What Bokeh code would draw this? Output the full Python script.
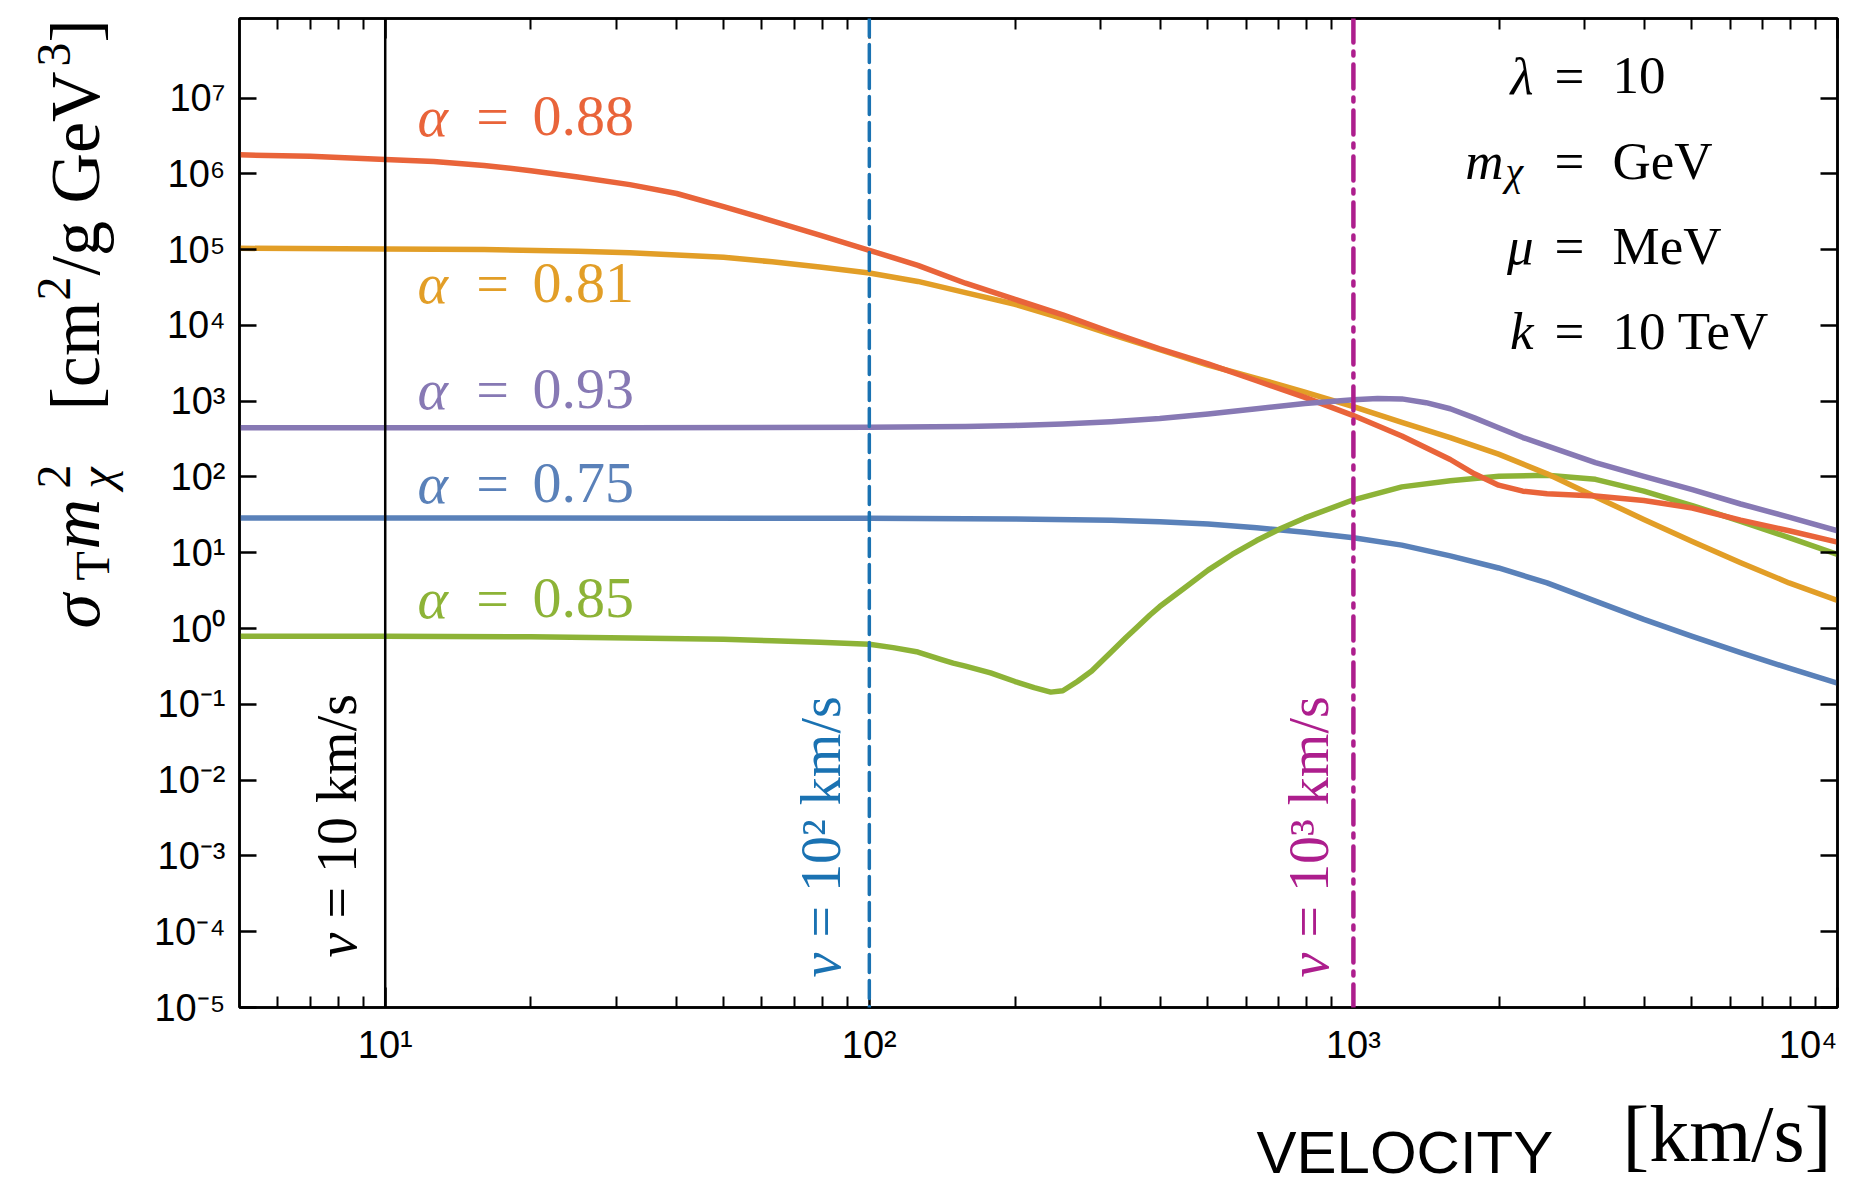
import math
from bokeh.plotting import figure
from bokeh.layouts import row, column
from bokeh.models import LogAxis, FixedTicker, CustomJSTickFormatter, Span, Range1d
from bokeh.core.properties import value
from bokeh.embed import file_html
from bokeh.resources import INLINE

# ------------------------------------------------------------------ data
v_a088 = [5, 7, 10, 12.6, 16, 20, 25, 32, 40, 50, 63, 79, 100, 126, 158, 200, 251, 316, 398,
          501, 631, 794, 1000, 1259, 1585, 1778, 1995, 2239, 2512, 3162, 3981, 5012, 6310,
          7943, 10000]
s_a088 = [1.78e6, 1.70e6, 1.55e6, 1.45e6, 1.29e6, 1.10e6, 9.1e5, 7.2e5, 5.5e5, 3.7e5,
          2.4e5, 1.55e5, 9.8e4, 6.2e4, 3.6e4, 2.2e4, 1.38e4, 8.1e3, 4.9e3, 3.1e3, 1.86e3,
          1.12e3, 646, 347, 170, 110, 78, 65, 60, 56, 49, 39, 27, 19.5, 13.8]

v_a081 = [5, 10, 16, 25, 32, 40, 50, 63, 79, 100, 126, 158, 200, 251, 316, 398, 501, 631,
          794, 1000, 1259, 1585, 1995, 2512, 3162, 3981, 5012, 6310, 7943, 10000]
s_a081 = [1.04e5, 1.02e5, 1.0e5, 9.5e4, 9.1e4, 8.5e4, 7.9e4, 6.9e4, 5.9e4, 4.9e4, 3.8e4,
          2.7e4, 1.9e4, 1.23e4, 7.6e3, 4.8e3, 3.0e3, 2.0e3, 1.32e3, 850, 525, 331, 200,
          110, 55, 27.5, 14.1, 7.4, 4.0, 2.35]

v_a093 = [5, 32, 100, 158, 200, 251, 316, 398, 501, 631, 794, 1000, 1122, 1259, 1413,
          1585, 1778, 1995, 2239, 2512, 3162, 3981, 5012, 6310, 7943, 10000]
s_a093 = [447, 447, 452, 462, 479, 501, 537, 589, 676, 794, 933, 1047, 1084, 1072, 955,
          794, 603, 447, 331, 257, 155, 102, 68, 44, 29.5, 19.5]

v_a075 = [5, 100, 200, 316, 398, 501, 631, 794, 1000, 1259, 1585, 1995, 2512, 3162, 3981,
          5012, 6310, 7943, 10000]
s_a075 = [28.8, 28.5, 27.9, 26.9, 25.7, 24.0, 21.4, 18.6, 15.8, 12.6, 9.1, 6.3, 4.0, 2.3,
          1.32, 0.79, 0.48, 0.30, 0.19]

v_a085 = [5, 10, 20, 32, 50, 63, 79, 100, 112, 126, 141, 149, 158, 178, 200, 219, 237, 251,
          269, 288, 302, 316, 339, 355, 380, 398, 447, 501, 562, 631, 708, 794, 1000, 1259,
          1585, 2000, 2512, 3162, 3981, 5012, 6310, 7943, 10000]
s_a085 = [0.79, 0.79, 0.78, 0.75, 0.72, 0.69, 0.66, 0.62, 0.56, 0.49, 0.39, 0.35, 0.32,
          0.26, 0.20, 0.166, 0.145, 0.151, 0.20, 0.275, 0.37, 0.49, 0.76, 1.0, 1.51, 1.95,
          3.4, 5.9, 9.5, 14.5, 20.9, 28.8, 50, 74, 89, 102, 105, 93, 65, 42, 26, 15.8, 9.5]

alpha_values = ["0.88", "0.81", "0.93", "0.75", "0.85"]
series_v = [v_a088, v_a081, v_a093, v_a075, v_a085]
series_s = [s_a088, s_a081, s_a093, s_a075, s_a085]

ref_velocities = [10, 100, 1000]
ref_labels = ["= 10 km/s", "= 10² km/s", "= 10³ km/s"]

x_major = [10, 100, 1000, 10000]
x_minor = [6, 7, 8, 9, 20, 30, 40, 50, 60, 70, 80, 90, 200, 300, 400, 500, 600, 700, 800, 900,
           2000, 3000, 4000, 5000, 6000, 7000, 8000, 9000]
y_major = [1e-5, 1e-4, 1e-3, 1e-2, 1e-1, 1e0, 1e1, 1e2, 1e3, 1e4, 1e5, 1e6, 1e7]

param_names = ["λ", "m", "μ", "k"]
param_values = ["10", "GeV", "MeV", "10 TeV"]

# ------------------------------------------------------------------ styles / layout
X0, X1 = 5, 1e4
Y0, Y1 = 1e-5, 1.12e8
W, H = 1858, 1185
WL = 135            # left strip holding the y title
HM = 1075           # height of the main figure
FL, FR, FT, FB = 239, 1837, 18, 1007   # frame in page pixels

series_colors = ["#E9643A", "#E29E27", "#8779B4", "#5A81B9", "#8DB337"]
draw_order = [3, 4, 1, 0, 2]
ref_colors = ["black", "#1A72B2", "#AD1E8D"]
ref_dash = ["solid", "18 8", "24 9 4 9"]
ref_width = [2.5, 3.5, 4.5]

SERIF = "Liberation Serif"
SANS = "Liberation Sans"
K = 0.37   # baseline correction (fraction of font size)

LX0, LX1 = math.log10(X0), math.log10(X1)
LY0, LY1 = math.log10(Y0), math.log10(Y1)


def xd(px):
    return 10 ** (LX0 + (px - FL) / (FR - FL) * (LX1 - LX0))


def yd(py):
    return 10 ** (LY0 + (FB - py) / (FB - FT) * (LY1 - LY0))


p = figure(width=W - WL, height=HM, x_axis_type="log", y_axis_type="log",
           x_range=Range1d(X0, X1), y_range=Range1d(Y0, Y1),
           output_backend="svg", toolbar_location=None,
           min_border_left=FL - WL, min_border_right=W - FR,
           min_border_top=FT, min_border_bottom=HM - FB)
p.background_fill_color = "white"
p.border_fill_color = "white"
p.outline_line_color = "black"
p.outline_line_width = 2.5
p.xgrid.visible = False
p.ygrid.visible = False

sup_map = '{"-":"⁻","0":"⁰","1":"¹","2":"²","3":"³","4":"⁴","5":"⁵","6":"⁶","7":"⁷","8":"⁸","9":"⁹"}'
y_code = """
const m = %s;
const e = Math.round(Math.log10(tick));
return "10" + String(e).split("").map(c => m[c]).join("");
""" % sup_map
x_code = """
const m = %s;
const e = Math.round(Math.log10(tick));
const s = "10" + String(e).split("").map(c => m[c]).join("");
return e == 4 ? s + "\\u2007" : s;
""" % sup_map
empty_code = "return '';"


def style_axis(ax, major_in, minor_in, code):
    ax.axis_line_color = "black"
    ax.axis_line_width = 2.5
    ax.major_tick_line_color = "black"
    ax.major_tick_line_width = 2.5
    ax.minor_tick_line_color = "black"
    ax.minor_tick_line_width = 2.0
    ax.major_tick_in = major_in
    ax.major_tick_out = 0
    ax.minor_tick_in = minor_in
    ax.minor_tick_out = 0
    ax.formatter = CustomJSTickFormatter(code=code)
    if code == empty_code:
        ax.major_label_standoff = 0
    else:
        ax.major_label_text_font = SANS
        ax.major_label_text_font_size = "38px"
        ax.major_label_text_color = "black"


xb = p.xaxis[0]
xb.ticker = FixedTicker(ticks=x_major, minor_ticks=x_minor)
style_axis(xb, 20, 11, x_code)
xb.major_label_standoff = 16

yl = p.yaxis[0]
yl.ticker = FixedTicker(ticks=y_major, minor_ticks=[])
style_axis(yl, 17, 0, y_code)
yl.major_label_standoff = 14

xt = LogAxis(ticker=FixedTicker(ticks=x_major, minor_ticks=x_minor))
style_axis(xt, 20, 11, empty_code)
p.add_layout(xt, "above")

yr = LogAxis(ticker=FixedTicker(ticks=y_major, minor_ticks=[]))
style_axis(yr, 17, 0, empty_code)
p.add_layout(yr, "right")

# ------------------------------------------------------------------ curves
for i in draw_order:
    p.line(series_v[i], series_s[i], line_color=series_colors[i], line_width=5.5,
           line_join="round", line_cap="round")

for v, c, d, w in zip(ref_velocities, ref_colors, ref_dash, ref_width):
    p.add_layout(Span(location=v, dimension="height", line_color=c, line_dash=d,
                      line_width=w, line_cap="round"))


def put_main(px, py, text, size, color="black", style="normal", font=SERIF,
             align="left", rotated=False):
    if rotated:
        x, y, ang = xd(px - K * size), yd(py), math.pi / 2
    else:
        x, y, ang = xd(px), yd(py - K * size), 0.0
    p.text(x=[x], y=[y], text=[text], angle=ang, text_font=value(font),
           text_font_size=f"{size}px", text_font_style=style, text_color=color,
           text_align=align, text_baseline="alphabetic")


# labels of the reference velocity lines (rotated)
ref_v_start = [957, 977, 977]
ref_rest_start = [918, 937, 937]
ref_base_off = [-28, -28, -24]
for v, txt, c, s0, s1, off in zip(ref_velocities, ref_labels, ref_colors,
                                   ref_v_start, ref_rest_start, ref_base_off):
    px = FL + (math.log10(v) - LX0) / (LX1 - LX0) * (FR - FL) + off
    put_main(px, s0, "v", 56, c, "italic", rotated=True)
    put_main(px, s1, txt, 56, c, rotated=True)

# alpha labels
alpha_base = [137, 304, 410, 504, 619]
for a, c, b in zip(alpha_values, series_colors, alpha_base):
    put_main(417, b, "α", 58, c, "italic")
    put_main(492, b, "=", 58, c, align="center")
    put_main(532, b, a, 58, c)

# parameter block
param_base = [95, 180, 265, 350]
param_right = [1533, 1503, 1533, 1533]
for name, val, b, r in zip(param_names, param_values, param_base, param_right):
    put_main(r, b, name, 53, style="italic", align="right")
    put_main(1569, b, "=", 53, align="center")
    put_main(1612, b, val, 53)
put_main(1505, 186, "χ", 40, style="italic")


# ------------------------------------------------------------------ title strips
def strip(w, h, top, bottom):
    # data coordinates of the strip: x = page px, y = (h - page px inside strip)
    f = figure(width=w, height=h, x_range=Range1d(0, w), y_range=Range1d(bottom, h - top),
               output_backend="svg", toolbar_location=None,
               x_axis_location=None, y_axis_location=None,
               min_border_left=0, min_border_right=0,
               min_border_top=top, min_border_bottom=bottom)
    f.outline_line_color = None
    f.background_fill_color = "white"
    f.border_fill_color = "white"
    f.xgrid.visible = False
    f.ygrid.visible = False
    return f


fy = strip(WL, HM, FT, HM - FB)   # page x 0..WL, y 0..HM; frame aligned with main frame
fx = strip(W, H - HM, 0, 0)       # page x 0..W, y HM..H


def put_y(bx, sy, text, size, style="normal"):
    fy.text(x=[bx - K * size], y=[HM - sy], text=[text], angle=math.pi / 2,
            text_font=value(SERIF), text_font_size=f"{size}px", text_font_style=style,
            text_color="black", text_align="left", text_baseline="alphabetic")


put_y(101, 628, "σ", 70, "italic")
put_y(110, 580, "T", 48)
put_y(101, 549, "m", 70, "italic")
put_y(114, 488, "χ", 48, "italic")
put_y(71, 488, "2", 48)
put_y(101, 410, "[cm", 70)
put_y(71, 300, "2", 48)
put_y(101, 275, "/g GeV", 70)
put_y(71, 66, "3", 48)
put_y(101, 42, "]", 70)


def put_x(lx, by, text, size, font):
    fx.text(x=[lx], y=[H - (by - K * size)], text=[text], text_font=value(font),
            text_font_size=f"{size}px", text_color="black",
            text_align="left", text_baseline="alphabetic")


put_x(1256, 1174, "VELOCITY", 60, SANS)
put_x(1622, 1163, "[km/s]", 80, SERIF)

layout = column(row(fy, p), fx)
open("out.html", "w").write(file_html(layout, INLINE))
